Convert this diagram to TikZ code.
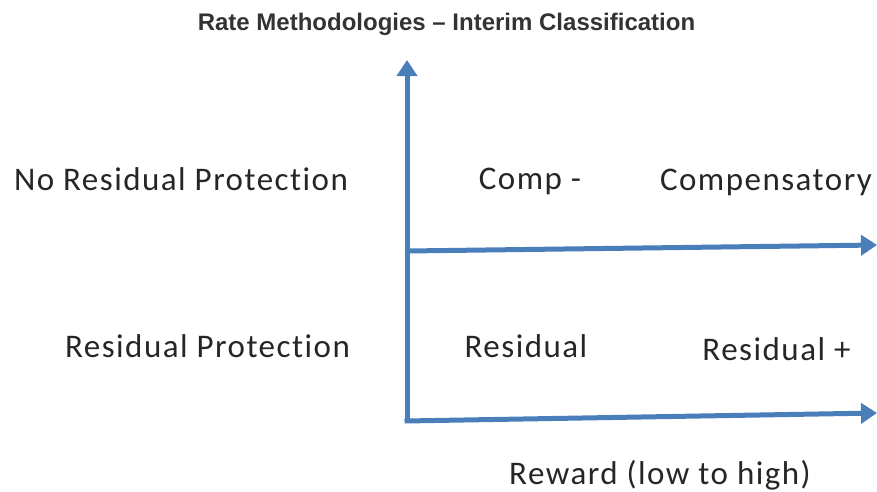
\documentclass[tikz,border=0pt]{standalone}
\usepackage{fontspec}
\setmainfont{Carlito}[Ligatures=NoCommon,LetterSpace=4.5]
\newfontfamily\titlefont{Liberation Sans}
\usetikzlibrary{arrows.meta}
\definecolor{axisblue}{RGB}{74,126,187}
\definecolor{txt}{RGB}{38,38,38}
\definecolor{ttl}{RGB}{51,51,51}
\tikzset{
  axis/.style={line width=5pt, draw=axisblue, -{Triangle[width=20pt,length=16pt]}},
  lbl/.style={anchor=base, inner sep=0pt, text=txt, font=\fontsize{33}{38}\selectfont},
  ttlstyle/.style={anchor=base, inner sep=0pt, text=ttl, font=\titlefont\bfseries\fontsize{24}{28}\selectfont}
}
\begin{document}
\begin{tikzpicture}[x=1pt,y=-1pt]
\useasboundingbox (0,0) rectangle (877,491);
\node[ttlstyle] (title) at (446.5,30) {Rate Methodologies – Interim Classification};
\coordinate (o) at (407,421);
\coordinate (top) at (407,60);
\coordinate (mid) at (407,251);
\coordinate (midend) at (877,245);
\coordinate (botend) at (877,413);
\draw[axis] (o) -- (top);
\draw[axis] (mid) -- (midend);
\draw[axis] ([xshift=-2.5pt]o) -- (botend);
\node[lbl] (nrp) at (181,190) {No Residual Protection};
\node[lbl] (rp) at (207.5,357) {Residual Protection};
\node[lbl] (compm) at (530,189) {Comp -};
\node[lbl] (comp) at (766,190) {Compensatory};
\node[lbl] (res) at (526,357) {Residual};
\node[lbl] (resp) at (776.5,360) {Residual +};
\node[lbl] (rew) at (660,484) {Reward (low to high)};
\end{tikzpicture}
\end{document}
